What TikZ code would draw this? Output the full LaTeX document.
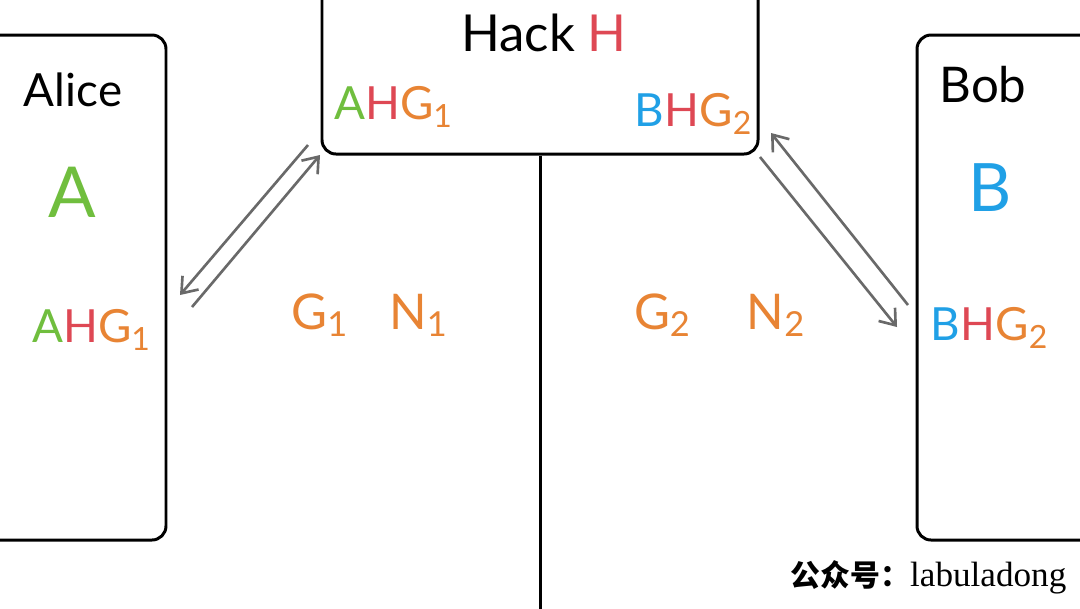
\documentclass[tikz,border=0pt]{standalone}
\usepackage{fontspec}
\setmainfont{Lato}
\newfontfamily\cjkfont{Noto Sans CJK SC}
\newfontfamily\markfont{Liberation Serif}
\usepackage{xcolor}
\usetikzlibrary{arrows.meta}
\definecolor{keygreen}{RGB}{112, 190, 62}
\definecolor{keyred}{RGB}{222, 72, 84}
\definecolor{keyorange}{RGB}{232, 132, 52}
\definecolor{keyblue}{RGB}{32, 160, 230}
\definecolor{wiregray}{RGB}{105, 105, 105}

\begin{document}
\begin{tikzpicture}[x=1cm, y=1cm,
    party/.style={draw=black, line width=0.85pt, rounded corners=4pt},
    msg/.style={draw=wiregray, line width=0.75pt, -{Straight Barb[length=4pt, width=6pt]}},
    partyname/.style={font=\fontsize{13}{13}\selectfont},
    keytext/.style={font=\fontsize{13}{13}\selectfont}]
                \useasboundingbox (0,0) rectangle (10.8,-6.08);
                \clip (0,0) rectangle (10.8,-6.08);
                \fill[white] (0,0) rectangle (10.8,-6.08);

                % Alice
                \node[party, minimum width=1.86cm, minimum height=5.05cm] (alice) at (0.73,-2.875) {};
                \node[partyname] (alicename) at (0.73,-0.90) {Alice};
                \node[keytext, font=\fontsize{20}{20}\selectfont, keygreen] (alicekey) at (0.72,-1.92) {A};
                \node[keytext] (alicemix) at (0.92,-3.30) {\textcolor{keygreen}{A}\textcolor{keyred}{H}\textcolor{keyorange}{G\textsubscript{1}}};

                % Hack
                \node[party, minimum width=4.36cm, minimum height=1.80cm] (hack) at (5.40,-0.64) {};
                \node[partyname, font=\fontsize{14.5}{14.5}\selectfont] (hackname) at (5.44,-0.33) {Hack \textcolor{keyred}{H}};
                \node[keytext] (hackA) at (3.94,-1.07) {\textcolor{keygreen}{A}\textcolor{keyred}{H}\textcolor{keyorange}{G\textsubscript{1}}};
                \node[keytext] (hackB) at (6.94,-1.14) {\textcolor{keyblue}{B}\textcolor{keyred}{H}\textcolor{keyorange}{G\textsubscript{2}}};

                % Bob
                \node[party, minimum width=1.90cm, minimum height=5.05cm] (bob) at (10.12,-2.875) {};
                \node[partyname, font=\fontsize{14}{14}\selectfont] (bobname) at (9.83,-0.85) {Bob};
                \node[keytext, font=\fontsize{19}{19}\selectfont, keyblue] (bobkey) at (9.90,-1.88) {B};
                \node[keytext] (bobmix) at (9.90,-3.28) {\textcolor{keyblue}{B}\textcolor{keyred}{H}\textcolor{keyorange}{G\textsubscript{2}}};

                % public values
                \node[keytext, font=\fontsize{14}{14}\selectfont, keyorange] (pubA) at (3.70,-3.15) {G\textsubscript{1}\hspace{0.4cm}N\textsubscript{1}};
                \node[keytext, font=\fontsize{14}{14}\selectfont, keyorange] (pubB) at (7.20,-3.15) {G\textsubscript{2}\hspace{0.55cm}N\textsubscript{2}};

                % wire
                \coordinate (floor) at (5.40,-6.10);
                \draw[line width=0.85pt] (hack.south) -- (floor);

                % Arrows
                \coordinate (hackA1) at (3.08,-1.45);
                \coordinate (aliceA1) at (1.80,-2.95);
                \coordinate (aliceA2) at (1.92,-3.07);
                \coordinate (hackA2) at (3.20,-1.55);
                \draw[msg] (hackA1) -- (aliceA1);
                \draw[msg] (aliceA2) -- (hackA2);
                \coordinate (hackB1) at (7.60,-1.57);
                \coordinate (bobB1) at (8.97,-3.27);
                \coordinate (bobB2) at (9.08,-3.05);
                \coordinate (hackB2) at (7.71,-1.33);
                \draw[msg] (hackB1) -- (bobB1);
                \draw[msg] (bobB2) -- (hackB2);

                % watermark
                \node[anchor=base east, inner xsep=0pt] (mark) at (10.67,-5.86) {{\cjkfont\bfseries\fontsize{8.5}{8.5}\selectfont 公众号：}{\markfont\fontsize{10}{10}\selectfont labuladong}};
            \end{tikzpicture}
\end{document}
